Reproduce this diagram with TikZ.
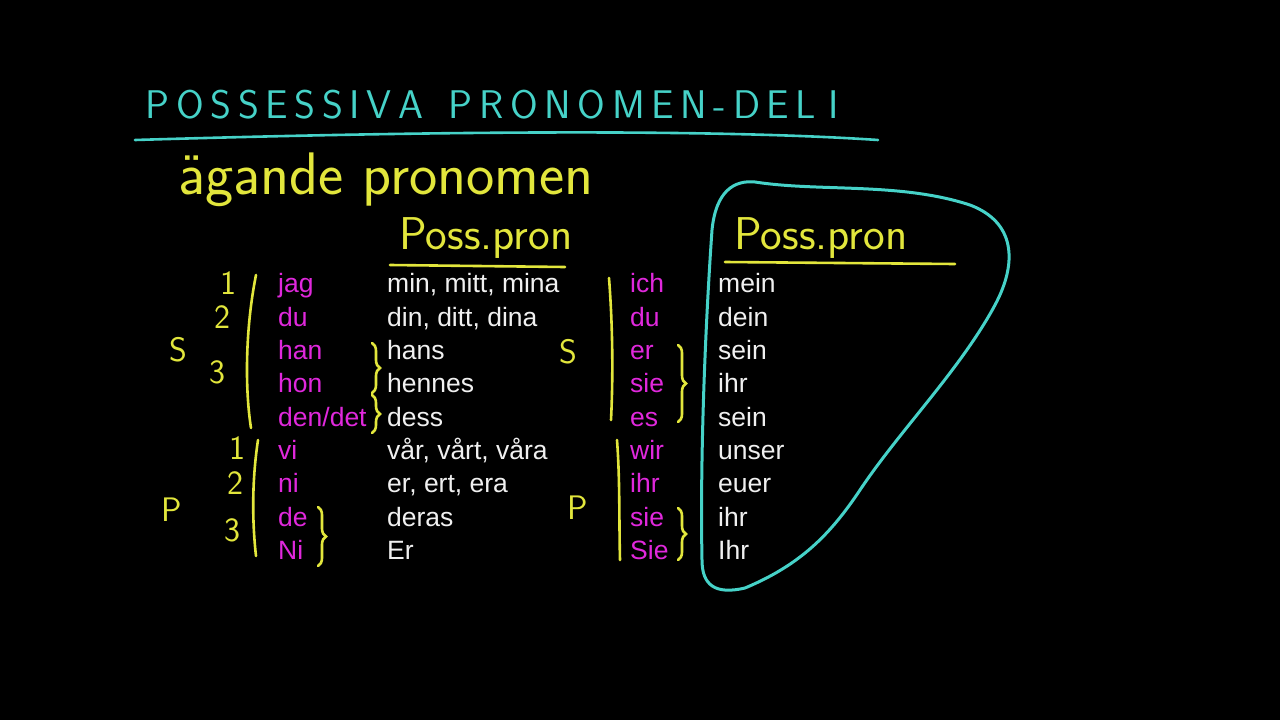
\documentclass[tikz,border=0pt]{standalone}
\usepackage{fontspec}
\setmainfont{Liberation Sans}
\usetikzlibrary{decorations.pathreplacing}
\definecolor{mag}{RGB}{224,40,220}
\definecolor{yel}{RGB}{226,230,60}
\definecolor{cya}{RGB}{70,210,200}
\definecolor{wht}{RGB}{240,240,240}
\tikzset{
 cell/.style={anchor=base west,inner sep=0,font=\fontsize{26.5}{26}\selectfont},
 pr/.style={cell,text=mag}, po/.style={cell,text=wht},
 ym/.style={text=yel,font=\fontsize{34}{34}\selectfont\sffamily},
 yl/.style={draw=yel,line width=2.6pt,line cap=round},
 br/.style={yl,decorate,decoration={brace,amplitude=8pt}}
}
\begin{document}
\begin{tikzpicture}[x=1pt,y=-1pt]
\fill[black] (0,0) rectangle (1280,720);
\useasboundingbox (0,0) rectangle (1280,720);
\node[text=cya,anchor=west,font=\fontsize{40}{40}\selectfont\sffamily] (title) at (142,105) {P\,O\,S\,S\,E\,S\,S\,I\,V\,A\ \ P\,R\,O\,N\,O\,M\,E\,N\,-\,D\,E\,L\ I};
\draw[cya,line width=2.6pt,line cap=round] (135,140) .. controls (400,132) and (700,128) .. (878,140);
\node[text=yel,anchor=west,font=\fontsize{60}{60}\selectfont\sffamily] (sub) at (175,180) {ägande pronomen};
\node[text=yel,anchor=west,font=\fontsize{46}{46}\selectfont\sffamily] (pp1) at (396,238) {Poss.pron};
\draw[yl] (390,265) -- (565,267);
\node[text=yel,anchor=west,font=\fontsize{46}{46}\selectfont\sffamily] (pp2) at (731,238) {Poss.pron};
\draw[yl] (725,262) -- (955,264);
\foreach \y/\a/\b/\c/\d [count=\i] in {283/jag/{min, mitt, mina}/ich/mein, 317/du/{din, ditt, dina}/du/dein, 350/han/hans/er/sein, 383/hon/hennes/sie/ihr, 417/den\slash det/dess/es/sein, 450/vi/{vår, vårt, våra}/wir/unser, 483/ni/{er, ert, era}/ihr/euer, 517/de/deras/sie/ihr, 550/Ni/Er/Sie/Ihr}{
 \node[pr] (a\i) at (278,\y+9) {\a};
 \node[po] (b\i) at (387,\y+9) {\b};
 \node[pr] (c\i) at (630,\y+9) {\c};
 \node[po] (d\i) at (718,\y+9) {\d};
}
% left marks
\node[ym] (n1) at (228,283) {1};
\node[ym] (n2) at (222,317) {2};
\node[ym] (n3) at (217,372) {3};
\node[ym] (s1) at (178,350) {S};
\draw[yl] (256,275) .. controls (245,330) and (245,390) .. (251,428);
\draw[br] (372,343) -- (372,393);
\draw[br] (372,395) -- (372,433);
\node[ym] (n4) at (237,448) {1};
\node[ym] (n5) at (235,483) {2};
\node[ym] (n6) at (232,530) {3};
\node[ym] (p1) at (172,510) {P};
\draw[yl] (258,440) .. controls (252,480) and (252,520) .. (256,556);
\draw[br] (318,507) -- (318,566);
% right marks
\node[ym] (s2) at (568,352) {S};
\draw[yl] (609,278) .. controls (613,330) and (613,380) .. (611,420);
\draw[br] (678,345) -- (678,422);
\node[ym] (p2) at (578,508) {P};
\draw[yl] (617,440) .. controls (620,480) and (619,520) .. (620,560);
\draw[br] (678,508) -- (678,560);
% blob
\draw[cya,line width=3pt,line cap=round,line join=round] (755,182) .. controls (820,192) and (900,182) .. (970,205)
 .. controls (1015,222) and (1018,262) .. (995,305)
 .. controls (960,370) and (900,430) .. (860,490)
 .. controls (830,535) and (800,565) .. (745,588)
 .. controls (715,595) and (702,585) .. (702,560)
 .. controls (700,460) and (705,330) .. (712,230)
 .. controls (716,190) and (735,180) .. (755,182);
\end{tikzpicture}
\end{document}
